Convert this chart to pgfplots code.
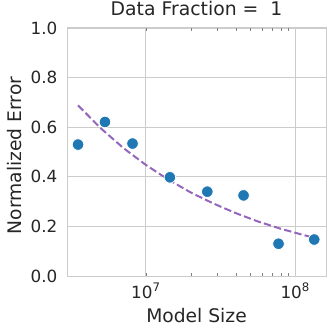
\documentclass[border=0pt]{standalone}
\usepackage{fontspec}
\setmainfont{DejaVu Sans}
\usepackage{pgfplots}
\pgfplotsset{compat=1.18}
\definecolor{sbblue}{HTML}{1F77B4}
\definecolor{sbpurple}{HTML}{9467BD}
\definecolor{sbgrid}{HTML}{CCCCCC}
\definecolor{sbtext}{HTML}{262626}

\begin{document}
\begin{tikzpicture}
\useasboundingbox (0,0) rectangle (333bp,334bp);
\begin{axis}[
  at={(67bp,58bp)},
  anchor=south west,
  scale only axis,
  width=259bp,
  height=248bp,
  xmode=log,
  xmin=2.97e6, xmax=1.607e8,
  ymin=0, ymax=1,
  xtick={1e7,1e8},
  xticklabels={10\textsuperscript{7},10\textsuperscript{8}},
  minor xtick={},
  ytick={0,0.2,0.4,0.6,0.8,1.0},
  yticklabel style={/pgf/number format/fixed,/pgf/number format/fixed zerofill,/pgf/number format/precision=1},
  /pgf/number format/assume math mode=true,
  major tick length=0pt,
  grid=major,
  grid style={draw=sbgrid, line width=0.8bp},
  axis line style={draw=sbgrid, line width=1bp},
  tick label style={font=\fontsize{16.8bp}{20bp}\selectfont, text=sbtext},
  yticklabel style={anchor=east, inner sep=0pt, xshift=-9.5bp},
  xticklabel style={anchor=north, inner sep=0pt, yshift=-7bp},
  title={Data Fraction = \ 1},
  title style={font=\fontsize{18.8bp}{22bp}\selectfont, text=sbtext, at={(axis description cs:0.5,1)}, anchor=base, inner sep=0pt, yshift=6.5bp},
  xlabel={Model Size},
  ylabel={Normalized Error},
  label style={font=\fontsize{18.7bp}{22bp}\selectfont, text=sbtext},
  xlabel style={at={(axis description cs:0.5,0)}, anchor=base, inner sep=0pt, yshift=-46.5bp},
  ylabel style={at={(axis description cs:-0.175,0.486)}, anchor=base, inner sep=0pt},
  clip=false,
]
% power-law fit
\addplot[sbpurple, line width=2bp, dash pattern=on 7.4bp off 3.2bp] coordinates {
  (3.52e6,0.688) (5.01e6,0.595) (7.08e6,0.516) (1.0e7,0.448)
  (1.413e7,0.389) (1.995e7,0.337) (2.818e7,0.293) (3.981e7,0.254)
  (5.623e7,0.220) (7.943e7,0.191) (1.122e8,0.166) (1.34e8,0.154)
};
\addplot[only marks, mark=*, mark size=5.8bp,
  mark options={fill=sbblue, draw=white, line width=0.8bp}] coordinates {
  (3.52e6,0.530) (5.33e6,0.621) (8.15e6,0.534) (1.45e7,0.398)
  (2.58e7,0.340) (4.51e7,0.325) (7.73e7,0.130) (1.34e8,0.147)
};
\end{axis}
\end{tikzpicture}
\end{document}
